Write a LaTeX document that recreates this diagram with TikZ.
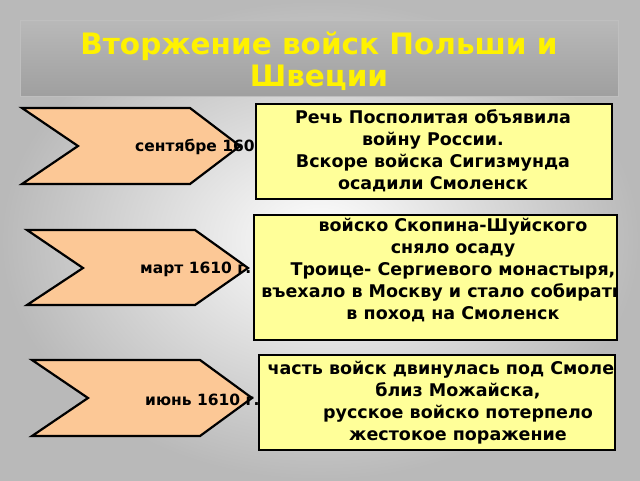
\documentclass[tikz,border=0pt]{standalone}
\usepackage{fontspec}
\setmainfont{DejaVu Sans}
\begin{document}
\begin{tikzpicture}[x=1pt,y=-1pt,
  chev/.style={fill={rgb,255:red,252;green,200;blue,150},draw=black,line width=2.2pt,line join=miter},
  tbox/.style={fill={rgb,255:red,255;green,255;blue,153},draw=black,line width=1.8pt},
  btxt/.style={font=\bfseries\fontsize{17.5}{22}\selectfont,align=center,inner sep=0},
  dtxt/.style={font=\bfseries\fontsize{15.5}{18}\selectfont,inner sep=0,anchor=west}]
\useasboundingbox (0,0) rectangle (640,480);
\shade[inner color=white,outer color=gray!55] (0,0) rectangle (640,480);
\shade[top color=gray!55,bottom color=gray!75,draw=gray!50] (20,20) rectangle (618,96);
\node[font=\bfseries\fontsize{29.5}{32}\selectfont,text=yellow,align=center] (title) at (319,61) {Вторжение войск Польши и\\Швеции};
% chevrons
\draw[chev] (22,108) -- (190,108) -- (240,146) -- (190,184) -- (22,184) -- (78,146) -- cycle;
\draw[chev] (27,230) -- (195,230) -- (248,268) -- (195,305) -- (27,305) -- (83,268) -- cycle;
\draw[chev] (32,360) -- (200,360) -- (252,398) -- (200,436) -- (32,436) -- (88,398) -- cycle;
\node[dtxt] (d1) at (135,147) {сентябре 1609 г.};
\node[dtxt] (d2) at (140,269) {март 1610 г.};
\node[dtxt] (d3) at (145,400) {июнь 1610 г.};
% boxes
\draw[tbox] (256,104) rectangle (612,199);
\draw[tbox] (254,215) rectangle (617,340);
\draw[tbox] (259,355) rectangle (615,450);
\begin{scope}
\clip (256,104) rectangle (612,199);
\node[btxt,anchor=north] (t1) at (433,109) {Речь Посполитая объявила\\войну России.\\Вскоре войска Сигизмунда\\осадили Смоленск};
\end{scope}
\begin{scope}
\clip (254,215) rectangle (617,340);
\node[btxt,anchor=north] (t2) at (453,218) {войско Скопина-Шуйского\\сняло осаду\\Троице- Сергиевого монастыря,\\въехало в Москву и стало собираться\\в поход на Смоленск};
\end{scope}
\begin{scope}
\clip (259,355) rectangle (615,450);
\node[btxt,anchor=north] (t3) at (458,361) {часть войск двинулась под Смоленск\\близ Можайска,\\русское войско потерпело\\жестокое поражение};
\end{scope}
\end{tikzpicture}
\end{document}
